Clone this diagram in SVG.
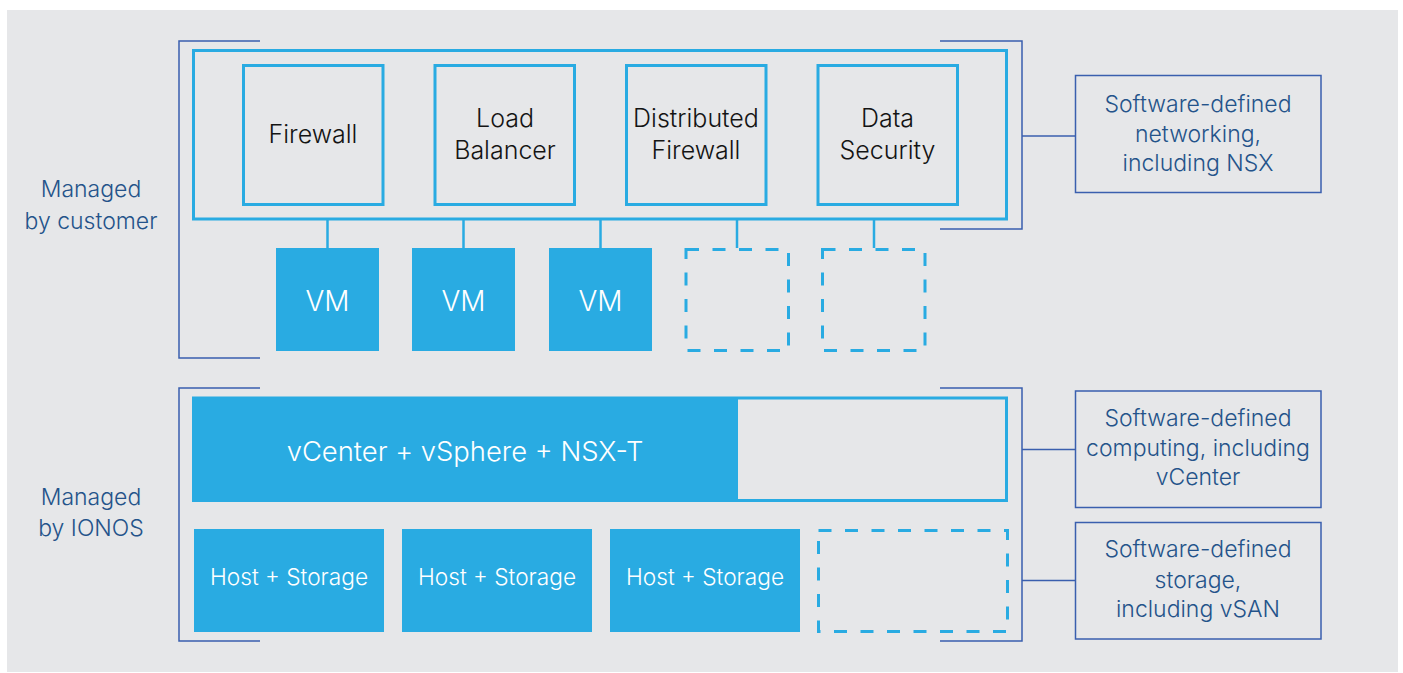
<svg xmlns="http://www.w3.org/2000/svg" width="1403" height="673" viewBox="0 0 1403 673">
<style>
.bg{fill:#e6e7e9}
.frame{fill:none;stroke:#29abe2;stroke-width:3}
.box{fill:none;stroke:#29abe2;stroke-width:3}
.solid{fill:#29abe2}
.dash{fill:none;stroke:#29abe2;stroke-width:3;stroke-dasharray:13 13.5}
.br{fill:none;stroke:#3a5fae;stroke-width:1.5}
.link{fill:none;stroke:#29abe2;stroke-width:2.5}
.lbox{fill:none;stroke:#3a5fae;stroke-width:1.5}
.t{font-family:Inter,"Open Sans",sans-serif;font-weight:300;font-size:25px;fill:#141414;text-anchor:middle}
.w{font-family:Inter,"Open Sans",sans-serif;font-weight:300;fill:#ffffff;text-anchor:middle}
.b{font-family:Inter,"Open Sans",sans-serif;font-weight:300;font-size:23px;fill:#24538a;text-anchor:middle}
</style>
<rect class="bg" x="7" y="10" width="1391" height="662"/>

<g id="brackets">
<path class="br" d="M260 41H179V358H260"/>
<path class="br" d="M940 41H1022V229H940"/>
<path class="br" d="M260 388H179V641H260"/>
<path class="br" d="M940 388H1022V641H940"/>
</g>

<g id="connectors">
<line class="link" x1="327.5" y1="219" x2="327.5" y2="248"/>
<line class="link" x1="463.5" y1="219" x2="463.5" y2="248"/>
<line class="link" x1="600.5" y1="219" x2="600.5" y2="248"/>
<line class="link" x1="737" y1="219" x2="737" y2="248"/>
<line class="link" x1="874" y1="219" x2="874" y2="248"/>
<line class="br" x1="1022" y1="136" x2="1076" y2="136"/>
<line class="br" x1="1022" y1="449.5" x2="1076" y2="449.5"/>
<line class="br" x1="1022" y1="580.5" x2="1076" y2="580.5"/>
</g>

<g id="label-customer">
<text class="b" x="91" y="197">Managed</text>
<text class="b" x="91" y="229">by customer</text>
</g>
<g id="label-ionos">
<text class="b" x="91" y="505">Managed</text>
<text class="b" x="91" y="536">by IONOS</text>
</g>

<g id="nsx-frame"><rect class="frame" x="193.5" y="50.5" width="813" height="168.5"/></g>

<g id="firewall"><rect class="box" x="243.5" y="65.5" width="139.5" height="139"/>
<text class="t" x="313" y="143">Firewall</text></g>
<g id="load-balancer"><rect class="box" x="435" y="65.5" width="139.5" height="139"/>
<text class="t" x="505" y="127">Load</text><text class="t" x="505" y="159">Balancer</text></g>
<g id="distributed-firewall"><rect class="box" x="626.5" y="65.5" width="139.5" height="139"/>
<text class="t" x="696" y="127">Distributed</text><text class="t" x="696" y="159">Firewall</text></g>
<g id="data-security"><rect class="box" x="818" y="65.5" width="139.5" height="139"/>
<text class="t" x="887.5" y="127">Data</text><text class="t" x="887.5" y="159">Security</text></g>

<g id="vm1"><rect class="solid" x="276" y="248" width="103" height="103"/><text class="w" x="327.5" y="311" font-size="28">VM</text></g>
<g id="vm2"><rect class="solid" x="412" y="248" width="103" height="103"/><text class="w" x="463.5" y="311" font-size="28">VM</text></g>
<g id="vm3"><rect class="solid" x="549" y="248" width="103" height="103"/><text class="w" x="600.5" y="311" font-size="28">VM</text></g>
<g id="vm4"><rect class="dash" x="686" y="249.5" width="102.5" height="101"/></g>
<g id="vm5"><rect class="dash" x="822.5" y="249.5" width="102.5" height="101"/></g>

<g id="sdn-label"><rect class="lbox" x="1075.5" y="75.5" width="245.5" height="117"/>
<text class="b" x="1198" y="112">Software-defined</text>
<text class="b" x="1198" y="142">networking,</text>
<text class="b" x="1198" y="171">including NSX</text></g>

<g id="vcenter"><rect class="box" x="193.5" y="398" width="813" height="102.5"/>
<rect class="solid" x="193" y="397" width="545" height="104"/>
<text class="w" x="465" y="461" font-size="27.4">vCenter + vSphere + NSX-T</text></g>

<g id="host1"><rect class="solid" x="194" y="529" width="190" height="103"/><text class="w" x="289" y="585" font-size="22.7">Host + Storage</text></g>
<g id="host2"><rect class="solid" x="402" y="529" width="190" height="103"/><text class="w" x="497" y="585" font-size="22.7">Host + Storage</text></g>
<g id="host3"><rect class="solid" x="610" y="529" width="190" height="103"/><text class="w" x="705" y="585" font-size="22.7">Host + Storage</text></g>
<g id="host4"><rect class="dash" x="818.5" y="530.5" width="189" height="101"/></g>

<g id="sdc-label"><rect class="lbox" x="1075.5" y="391" width="245.5" height="116.5"/>
<text class="b" x="1198" y="425.5">Software-defined</text>
<text class="b" x="1198" y="456">computing, including</text>
<text class="b" x="1198" y="485">vCenter</text></g>

<g id="sds-label"><rect class="lbox" x="1075.5" y="522.5" width="245.5" height="116.5"/>
<text class="b" x="1198" y="557">Software-defined</text>
<text class="b" x="1198" y="588">storage,</text>
<text class="b" x="1198" y="617">including vSAN</text></g>
</svg>
